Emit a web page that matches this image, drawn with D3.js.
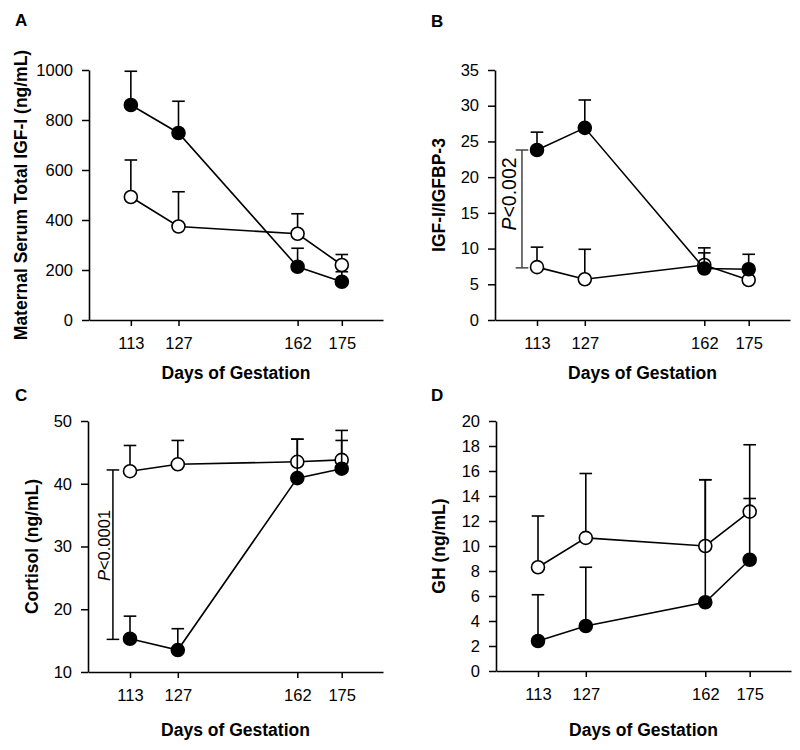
<!DOCTYPE html>
<html>
<head>
<meta charset="utf-8">
<script src="https://cdn.jsdelivr.net/npm/d3@7"></script>
<style>
  html, body { margin: 0; padding: 0; background: #fff; }
  svg { display: block; }
  text { font-family: "Liberation Sans", Arial, Helvetica, sans-serif; fill: #000; }
</style>
</head>
<body>
<svg id="chart" width="800" height="750"></svg>
<script>
// ---- Data ----
const days = [113, 127, 162, 175];
const xTickLabels = ["113", "127", "162", "175"];

// Panel A: Maternal serum total IGF-I (ng/mL)
const igfFilled = [860, 748, 213, 153];
const igfFilledUpper = [995, 875, 287, 193];
const igfOpen = [492, 374, 345, 220];
const igfOpenUpper = [640, 513, 425, 262];
const igfTicks = [0, 200, 400, 600, 800, 1000];

// Panel B: IGF-I/IGFBP-3
const ratioFilled = [23.8, 26.9, 7.2, 7.1];
const ratioFilledUpper = [26.3, 30.8, 9.4, 9.2];
const ratioOpen = [7.4, 5.7, 7.7, 5.6];
const ratioOpenUpper = [10.2, 9.9, 10.1, 5.6];
const ratioTicks = [0, 5, 10, 15, 20, 25, 30, 35];

// Panel C: Cortisol (ng/mL)
const cortFilled = [15.3, 13.5, 40.9, 42.4];
const cortFilledUpper = [18.9, 16.9, 47.1, 46.9];
const cortOpen = [42.0, 43.1, 43.5, 43.8];
const cortOpenUpper = [46.1, 46.9, 47.1, 48.5];
const cortTicks = [10, 20, 30, 40, 50];

// Panel D: GH (ng/mL)
const ghFilled = [2.4, 3.6, 5.5, 8.9];
const ghFilledUpper = [6.1, 8.3, 15.3, 13.8];
const ghOpen = [8.3, 10.65, 10.0, 12.75];
const ghOpenUpper = [12.4, 15.8, 15.3, 18.1];
const ghTicks = [0, 2, 4, 6, 8, 10, 12, 14, 16, 18, 20];

const xLabel = "Days of Gestation";

// ---- Layout ----
const panels = [
  { letter: "A", left: 89, top: 70, w: 294, h: 250, yDomain: [0, 1000], yTicks: igfTicks,
    ylabel: "Maternal Serum Total IGF-I (ng/mL)", ylabelX: 27, xlabelDy: 59,
    filled: igfFilled, filledUp: igfFilledUpper, open: igfOpen, openUp: igfOpenUpper,
    letterX: 15, letterY: 26, bracket: null },
  { letter: "B", left: 495, top: 70, w: 295, h: 250, yDomain: [0, 35], yTicks: ratioTicks,
    ylabel: "IGF-I/IGFBP-3", ylabelX: 445, xlabelDy: 59,
    filled: ratioFilled, filledUp: ratioFilledUpper, open: ratioOpen, openUp: ratioOpenUpper,
    letterX: 431, letterY: 27,
    bracket: { d: 108.6, from: 23.8, to: 7.3, label: "0.002", size: 19.5, color: "#444", textX: 516, textY: 194 } },
  { letter: "C", left: 88, top: 421, w: 295, h: 251, yDomain: [10, 50], yTicks: cortTicks,
    ylabel: "Cortisol (ng/mL)", ylabelX: 38, xlabelDy: 64,
    filled: cortFilled, filledUp: cortFilledUpper, open: cortOpen, openUp: cortOpenUpper,
    letterX: 15, letterY: 401,
    bracket: { d: 108.0, from: 42.2, to: 15.2, label: "0.0001", size: 16.5, color: "#000", textX: 109.5, textY: 545.5 } },
  { letter: "D", left: 496, top: 421, w: 295, h: 250, yDomain: [0, 20], yTicks: ghTicks,
    ylabel: "GH (ng/mL)", ylabelX: 445, xlabelDy: 65,
    filled: ghFilled, filledUp: ghFilledUpper, open: ghOpen, openUp: ghOpenUpper,
    letterX: 431, letterY: 401, bracket: null }
];

const svg = d3.select("#chart");
svg.append("rect").attr("width", 800).attr("height", 750).attr("fill", "#fff");

const R = 6.5, CAP = 6.3, SW = 1.6;

panels.forEach(p => {
  const g = svg.append("g").attr("transform", `translate(${p.left},${p.top})`);
  const x = d3.scaleLinear().domain([100.7, 187.1]).range([0, p.w]);
  const y = d3.scaleLinear().domain(p.yDomain).range([p.h, 0]);

  // axes
  const xAxis = d3.axisBottom(x).tickValues(days).tickFormat((d, i) => xTickLabels[i])
    .tickSize(6).tickSizeOuter(0).tickPadding(11);
  const yAxis = d3.axisLeft(y).tickValues(p.yTicks).tickFormat(d3.format("d"))
    .tickSize(7).tickSizeOuter(0).tickPadding(9);

  const gx = g.append("g").attr("transform", `translate(0,${p.h})`).call(xAxis);
  const gy = g.append("g").call(yAxis);
  [gx, gy].forEach(a => {
    a.selectAll("path").attr("stroke", "#000").attr("stroke-width", 1.6);
    a.selectAll("line").attr("stroke", "#000").attr("stroke-width", 1.5);
    a.selectAll("text").attr("font-size", 16.5).attr("font-family", "Liberation Sans, Arial, sans-serif").attr("fill", "#000");
  });

  // labels
  svg.append("text").attr("x", p.left + p.w / 2).attr("y", p.top + p.h + p.xlabelDy)
    .attr("text-anchor", "middle").attr("font-weight", "bold").attr("font-size", 17.5).text(xLabel);
  svg.append("text").attr("transform", `translate(${p.ylabelX},${p.top + p.h / 2}) rotate(-90)`)
    .attr("text-anchor", "middle").attr("font-weight", "bold").attr("font-size", 17.5).text(p.ylabel);
  svg.append("text").attr("x", p.letterX).attr("y", p.letterY)
    .attr("font-weight", "bold").attr("font-size", 17).text(p.letter);

  // significance bracket
  if (p.bracket) {
    const b = p.bracket;
    const bx = x(b.d);
    const bg = g.append("g").attr("stroke", b.color).attr("stroke-width", 1.5);
    bg.append("line").attr("x1", bx).attr("x2", bx).attr("y1", y(b.from)).attr("y2", y(b.to));
    bg.append("line").attr("x1", bx - CAP).attr("x2", bx + CAP).attr("y1", y(b.from)).attr("y2", y(b.from));
    bg.append("line").attr("x1", bx - CAP).attr("x2", bx + CAP).attr("y1", y(b.to)).attr("y2", y(b.to));
    const t = svg.append("text")
      .attr("transform", `translate(${b.textX},${b.textY}) rotate(-90)`)
      .attr("text-anchor", "middle").attr("font-size", b.size).attr("fill", b.color);
    t.append("tspan").attr("font-style", "italic").text("P");
    t.append("tspan").text("<" + b.label);
  }

  const line = d3.line().x((d, i) => x(days[i])).y(d => y(d));

  function series(vals, ups, filled) {
    const s = g.append("g");
    s.append("path").datum(vals).attr("d", line).attr("fill", "none")
      .attr("stroke", "#000").attr("stroke-width", SW);
    vals.forEach((v, i) => {
      if (ups[i] > v) {
        const cx = x(days[i]);
        s.append("line").attr("x1", cx).attr("x2", cx).attr("y1", y(v)).attr("y2", y(ups[i]))
          .attr("stroke", "#000").attr("stroke-width", SW);
        s.append("line").attr("x1", cx - CAP).attr("x2", cx + CAP).attr("y1", y(ups[i])).attr("y2", y(ups[i]))
          .attr("stroke", "#000").attr("stroke-width", SW);
      }
    });
    s.selectAll("circle").data(vals).enter().append("circle")
      .attr("cx", (d, i) => x(days[i])).attr("cy", d => y(d)).attr("r", R)
      .attr("fill", filled ? "#000" : "#fff").attr("stroke", "#000").attr("stroke-width", SW);
  }
  series(p.open, p.openUp, false);
  series(p.filled, p.filledUp, true);
});
</script>
</body>
</html>
